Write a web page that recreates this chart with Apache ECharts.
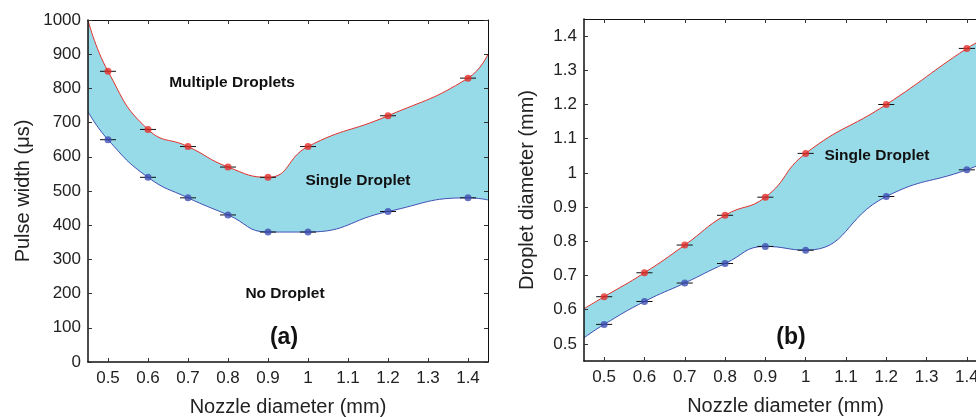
<!DOCTYPE html>
<html>
<head>
<meta charset="utf-8">
<script src="https://cdn.jsdelivr.net/npm/echarts@6/dist/echarts.min.js"></script>
<style>
html,body{margin:0;padding:0;background:#fff;overflow:hidden;width:976px;height:417px;}
#c{width:990px;height:417px;}
</style>
</head>
<body>
<div id="c"></div>
<script>
// ---- data ----
const nozzle = [0.5, 0.6, 0.7, 0.8, 0.9, 1.0, 1.2, 1.4];
const xTicks = [0.5, 0.6, 0.7, 0.8, 0.9, 1, 1.1, 1.2, 1.3, 1.4];
const yTicksB = [0.5, 0.6, 0.7, 0.8, 0.9, 1, 1.1, 1.2, 1.3, 1.4];
const nozzleErr = 0.02;

// (a) pulse width (µs)
const pulseUpper = [850, 680, 630, 570, 540, 630, 720, 830];
const pulseLower = [650, 540, 480, 430, 380, 380, 440, 480];
// boundary curve end values at plot edges (x = 0.45 and 1.45)
const pulseUpperEdges = [1000, 900];
const pulseLowerEdges = [732, 474];

// (b) droplet diameter (mm)
const dropUpper = [0.638, 0.708, 0.789, 0.876, 0.929, 1.057, 1.200, 1.364];
const dropLower = [0.557, 0.624, 0.678, 0.735, 0.785, 0.774, 0.931, 1.009];
const dropUpperEdges = [0.603, 1.395];
const dropLowerEdges = [0.518, 1.035];

const xEdges = [0.45, 1.45];

function curve(vals, edges) {
  const d = [[xEdges[0], edges[0]]];
  nozzle.forEach((x, i) => d.push([x, vals[i]]));
  d.push([xEdges[1], edges[1]]);
  return d;
}
function pts(vals) { return nozzle.map((x, i) => [x, vals[i]]); }

const RED = '#e2302a', BLUE = '#3f4fb3', FILL = '#98dbe8';
const FONT = 'Liberation Sans, Arial, sans-serif';

function errSeries(xi, yi, vals) {
  return {
    type: 'custom', xAxisIndex: xi, yAxisIndex: yi, z: 3, silent: true,
    data: pts(vals),
    renderItem: function (params, api) {
      const x = api.value(0), y = api.value(1);
      const p1 = api.coord([x - nozzleErr, y]);
      const p2 = api.coord([x + nozzleErr, y]);
      return { type: 'line', shape: { x1: p1[0], y1: p1[1], x2: p2[0], y2: p2[1] },
               style: { stroke: '#111', lineWidth: 1 } };
    }
  };
}
function bandSeries(xi, yi, upper, lower) {
  return [
    { type: 'line', xAxisIndex: xi, yAxisIndex: yi, data: upper, smooth: 0.5, symbol: 'none', z: 1,
      lineStyle: { color: RED, width: 1 }, areaStyle: { color: FILL, opacity: 1, origin: 'start' } },
    { type: 'line', xAxisIndex: xi, yAxisIndex: yi, data: lower, smooth: 0.5, symbol: 'none', z: 2,
      lineStyle: { color: BLUE, width: 1 }, areaStyle: { color: '#ffffff', opacity: 1, origin: 'start' } }
  ];
}
function dotSeries(xi, yi, vals, color) {
  return { type: 'scatter', xAxisIndex: xi, yAxisIndex: yi, data: pts(vals), symbolSize: 7, z: 4,
           itemStyle: { color: color } };
}

function xAx(gi, pos) {
  const bottom = pos === 'bottom';
  return {
    type: 'value', gridIndex: gi, position: pos, min: 0.45, max: 1.45, z: 10,
    name: bottom ? 'Nozzle diameter (mm)' : '', nameLocation: 'middle', nameGap: 35,
    nameTextStyle: { fontSize: 20, color: '#222', fontFamily: FONT },
    axisLine: { show: true, onZero: false, lineStyle: { color: '#111', width: bottom ? 1.5 : 1 } },
    axisTick: { show: true, inside: true, length: 4, customValues: xTicks, lineStyle: { color: '#333' } },
    axisLabel: { show: bottom, customValues: xTicks, fontSize: 17, color: '#222', fontFamily: FONT, margin: 8,
                 formatter: v => String(v) },
    splitLine: { show: false }
  };
}
function yAx(gi, pos, cfg) {
  const left = pos === 'left';
  const a = {
    type: 'value', gridIndex: gi, position: pos, z: 10,
    name: left ? cfg.name : '', nameLocation: 'middle', nameGap: cfg.gap,
    nameTextStyle: { fontSize: 20, color: '#222', fontFamily: FONT },
    axisLine: { show: true, onZero: false, lineStyle: { color: '#111', width: left ? 1.5 : 1 } },
    axisTick: { show: true, inside: true, length: 4, lineStyle: { color: '#333' } },
    axisLabel: { show: left, fontSize: 17, color: '#222', fontFamily: FONT, margin: 7,
                 formatter: v => String(v) },
    splitLine: { show: false }
  };
  Object.assign(a, cfg.scale);
  if (cfg.ticks) { a.axisTick.customValues = cfg.ticks; a.axisLabel.customValues = cfg.ticks; }
  return a;
}

const cfgA = { name: 'Pulse width (μs)', gap: 55, scale: { min: 0, max: 1000, interval: 100 } };
const cfgB = { name: 'Droplet diameter (mm)', gap: 47, scale: { min: 0.45, max: 1.45 }, ticks: yTicksB };

const chart = echarts.init(document.getElementById('c'));
const LBL = { fontSize: 15.5, fontWeight: 'bold', fontFamily: FONT, fill: '#111', align: 'center', verticalAlign: 'middle' };
const TAG = { fontSize: 23, fontWeight: 'bold', fontFamily: FONT, fill: '#111', align: 'center', verticalAlign: 'middle' };
chart.setOption({
  animation: false,
  backgroundColor: '#fff',
  grid: [
    { left: 88, top: 20, width: 400, height: 342, containLabel: false, outerBoundsMode: 'none' },
    { left: 584, top: 19, width: 403, height: 342, containLabel: false, outerBoundsMode: 'none' }
  ],
  xAxis: [xAx(0, 'bottom'), xAx(0, 'top'), xAx(1, 'bottom'), xAx(1, 'top')],
  yAxis: [yAx(0, 'left', cfgA), yAx(0, 'right', cfgA), yAx(1, 'left', cfgB), yAx(1, 'right', cfgB)],
  series: [
    ...bandSeries(0, 0, curve(pulseUpper, pulseUpperEdges), curve(pulseLower, pulseLowerEdges)),
    errSeries(0, 0, pulseUpper), errSeries(0, 0, pulseLower),
    dotSeries(0, 0, pulseUpper, RED), dotSeries(0, 0, pulseLower, BLUE),
    ...bandSeries(2, 2, curve(dropUpper, dropUpperEdges), curve(dropLower, dropLowerEdges)),
    errSeries(2, 2, dropUpper), errSeries(2, 2, dropLower),
    dotSeries(2, 2, dropUpper, RED), dotSeries(2, 2, dropLower, BLUE)
  ],
  graphic: [
    { type: 'text', x: 232, y: 83, z: 100, style: Object.assign({ text: 'Multiple Droplets' }, LBL) },
    { type: 'text', x: 358, y: 181, z: 100, style: Object.assign({ text: 'Single Droplet' }, LBL) },
    { type: 'text', x: 285, y: 294, z: 100, style: Object.assign({ text: 'No Droplet' }, LBL) },
    { type: 'text', x: 284, y: 338, z: 100, style: Object.assign({ text: '(a)' }, TAG) },
    { type: 'text', x: 877, y: 156, z: 100, style: Object.assign({ text: 'Single Droplet' }, LBL) },
    { type: 'text', x: 791, y: 338, z: 100, style: Object.assign({ text: '(b)' }, TAG) }
  ]
});
</script>
</body>
</html>
